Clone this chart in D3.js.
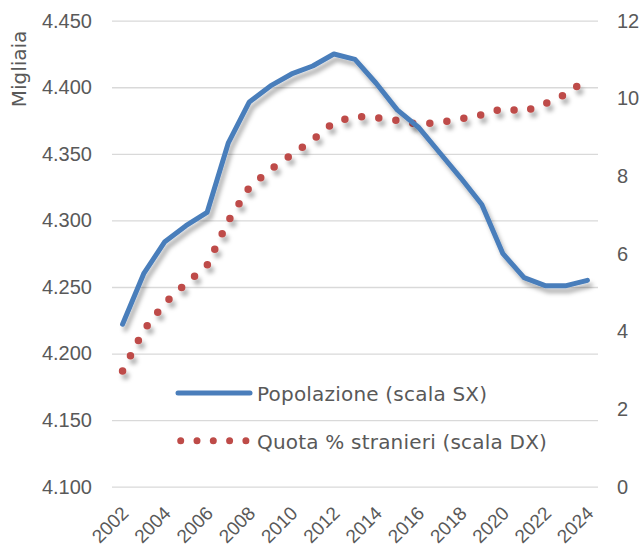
<!DOCTYPE html>
<html>
<head>
<meta charset="utf-8">
<script src="https://cdn.jsdelivr.net/npm/d3@7"></script>
<style>
  body { margin: 0; background: #fff; }
  svg { display: block; }
</style>
</head>
<body>
<script>
// Data

const years = d3.range(2002, 2025)

// Popolazione (migliaia), scala SX
const population = [
  4222, 4260, 4284, 4296, 4306, 4358, 4389, 4401, 4410, 4416, 4425, 4421,
  4403, 4383, 4370, 4351, 4332, 4312, 4275, 4257, 4251, 4251, 4255,
]

// Quota % stranieri, scala DX
const foreignShare = [
  2.98, 4.03, 4.73, 5.23, 5.7, 6.84, 7.71, 8.17, 8.55, 8.93, 9.38, 9.54,
  9.5, 9.43, 9.33, 9.38, 9.47, 9.58, 9.74, 9.66, 9.86, 10.11, 10.51,
]

const leftTicks = [4100, 4150, 4200, 4250, 4300, 4350, 4400, 4450]
const rightTicks = [0, 2, 4, 6, 8, 10, 12]
const xTicks = years.filter(y => y % 2 === 0)

const labels = {
  yLeft: "Migliaia",
  pop: "Popolazione (scala SX)",
  share: "Quota % stranieri (scala DX)",
}

// Dimensions
const width = 644
const height = 548
const margin = { top: 20.7, right: 46, bottom: 61.3, left: 112 }
const plotWidth = width - margin.left - margin.right
const plotHeight = height - margin.top - margin.bottom

const blue = "#4A7EBB"
const red = "#BE4B48"
const grey = "#595959"
const tickFont = "'Liberation Sans', Arial, sans-serif"
const textFont = "'DejaVu Sans', sans-serif"

const it = d3.formatLocale({ decimal: ",", thousands: ".", grouping: [3], currency: ["", "€"] })

const svg = d3
  .select("body")
  .append("svg")
  .attr("width", width)
  .attr("height", height)

// Drop shadow for the series
const filter = svg
  .append("defs")
  .append("filter")
  .attr("id", "shadow")
  .attr("x", "-10%")
  .attr("y", "-10%")
  .attr("width", "130%")
  .attr("height", "130%")
filter
  .append("feDropShadow")
  .attr("dx", 3)
  .attr("dy", 5)
  .attr("stdDeviation", 2)
  .attr("flood-color", "#000")
  .attr("flood-opacity", 0.3)

const g = svg
  .append("g")
  .attr("transform", `translate(${margin.left}, ${margin.top})`)

// Scales
const x = d3.scalePoint().domain(years).range([0, plotWidth]).padding(0.5)
const yLeft = d3.scaleLinear().domain([4100, 4450]).range([plotHeight, 0])
const yRight = d3.scaleLinear().domain([0, 12]).range([plotHeight, 0])

// Left axis + gridlines
const axisL = g
  .append("g")
  .call(
    d3
      .axisLeft(yLeft)
      .tickValues(leftTicks)
      .tickFormat(it.format(","))
      .tickSize(-plotWidth)
      .tickPadding(20)
  )
axisL.select(".domain").remove()
axisL.selectAll("line").attr("stroke", "#D9D9D9").attr("stroke-width", 1.3)
axisL
  .selectAll("text")
  .attr("fill", grey)
  .style("font-family", tickFont)
  .style("font-size", "20px")

// Right axis
const axisR = g
  .append("g")
  .attr("transform", `translate(${plotWidth}, 0)`)
  .call(d3.axisRight(yRight).tickValues(rightTicks).tickSize(0).tickPadding(19))
axisR.select(".domain").remove()
axisR
  .selectAll("text")
  .attr("fill", grey)
  .style("font-family", tickFont)
  .style("font-size", "20px")

// X axis, rotated labels
const axisX = g
  .append("g")
  .attr("transform", `translate(0, ${plotHeight})`)
  .call(d3.axisBottom(x).tickValues(xTicks).tickSize(0))
axisX.select(".domain").remove()
axisX
  .selectAll("text")
  .attr("fill", grey)
  .style("font-family", tickFont)
  .style("font-size", "19px")
  .attr("text-anchor", "end")
  .attr("x", 0)
  .attr("y", 0)
  .attr("dy", "0.35em")
  .attr("transform", "translate(2, 23) rotate(-45)")

// Y axis title
svg
  .append("text")
  .attr("transform", "translate(26, 69) rotate(-90)")
  .attr("text-anchor", "middle")
  .attr("fill", grey)
  .style("font-family", textFont)
  .style("font-size", "20px")
  .text(labels.yLeft)

// Series
const popLine = d3
  .line()
  .x((d, i) => x(years[i]))
  .y(d => yLeft(d))

const shareLine = d3
  .line()
  .x((d, i) => x(years[i]))
  .y(d => yRight(d))

g.append("path")
  .datum(foreignShare)
  .attr("d", shareLine)
  .attr("fill", "none")
  .attr("stroke", red)
  .attr("stroke-width", 7.5)
  .attr("stroke-linecap", "round")
  .attr("stroke-dasharray", "0 17.2")
  .attr("filter", "url(#shadow)")

g.append("path")
  .datum(population)
  .attr("d", popLine)
  .attr("fill", "none")
  .attr("stroke", blue)
  .attr("stroke-width", 5)
  .attr("stroke-linejoin", "round")
  .attr("stroke-linecap", "round")
  .attr("filter", "url(#shadow)")

// Legend
const legend = svg.append("g").attr("transform", "translate(178, 0)")

legend
  .append("line")
  .attr("x1", 0)
  .attr("x2", 72)
  .attr("y1", 393)
  .attr("y2", 393)
  .attr("stroke", blue)
  .attr("stroke-width", 5)
  .attr("stroke-linecap", "round")

legend
  .append("line")
  .attr("x1", 2.7)
  .attr("x2", 70)
  .attr("y1", 440.7)
  .attr("y2", 440.7)
  .attr("stroke", red)
  .attr("stroke-width", 7)
  .attr("stroke-linecap", "round")
  .attr("stroke-dasharray", "0 16.3")

legend
  .selectAll("text.entry")
  .data([labels.pop, labels.share])
  .join("text")
  .attr("class", "entry")
  .attr("x", 79)
  .attr("y", (d, i) => 400.5 + i * 48.5)
  .attr("fill", grey)
  .style("font-family", textFont)
  .style("font-size", "20px")
  .style("letter-spacing", "0.2px")
  .text(d => d)
</script>
</body>
</html>
